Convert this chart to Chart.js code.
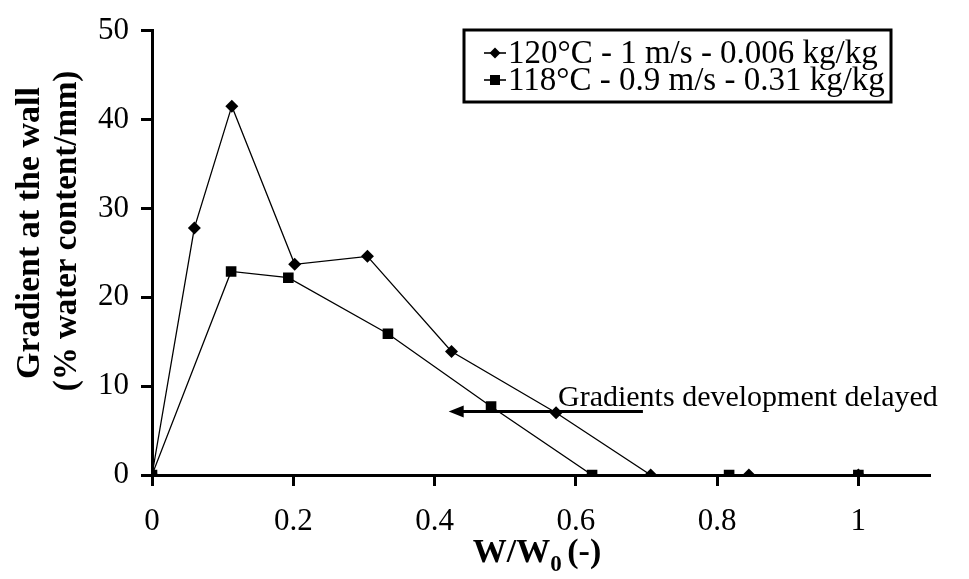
<!DOCTYPE html>
<html>
<head>
<meta charset="utf-8">
<script src="https://cdn.jsdelivr.net/npm/chart.js@4/dist/chart.umd.min.js"></script>
<style>
html,body{margin:0;padding:0;background:#fff;}
canvas{display:block;}
</style>
</head>
<body>
<canvas id="c" width="969" height="579"></canvas>
<script>
// ---- data ----
const seriesLabels = ["120\u00B0C - 1 m/s - 0.006 kg/kg", "118\u00B0C - 0.9 m/s - 0.31 kg/kg"];
const xDiamond = [0, 0.06, 0.113, 0.202, 0.305, 0.424, 0.572, 0.706, 0.845, 1.0];
const yDiamond = [0, 27.8, 41.5, 23.7, 24.6, 13.9, 7.0, 0, 0, 0];
const xSquare = [0, 0.112, 0.193, 0.334, 0.48, 0.623, 0.817, 1.0];
const ySquare = [0, 22.9, 22.2, 15.9, 7.7, 0, 0, 0];
const xTickValues = [0, 0.2, 0.4, 0.6, 0.8, 1];
const yTickValues = [0, 10, 20, 30, 40, 50];
const yTitleLines = ["Gradient at the wall", "(% water content/mm)"];
const xTitleParts = ["W/W", "0", " (-)"];
const annotationText = "Gradients development delayed";
const arrowFromTo = [0.695, 0.42]; // x values (data units)
const arrowAt = 7.14;               // y value (data units)

const FONT = "'Liberation Serif','Times New Roman',serif";

const toPts = (xs, ys) => xs.map((x, i) => ({x: x, y: ys[i]}));

const overlay = {
  id: 'overlay',
  afterDraw(chart) {
    const ctx = chart.ctx;
    const xs = chart.scales.x, ys = chart.scales.y;
    ctx.save();
    ctx.fillStyle = '#000';
    ctx.strokeStyle = '#000';
    // y title (two rotated lines)
    ctx.textAlign = 'center';
    ctx.textBaseline = 'middle';
    const yTitle = [{x: 30, y: 233, size: 34}, {x: 67, y: 231, size: 33}];
    yTitle.forEach((t, i) => {
      ctx.save();
      ctx.font = "bold " + t.size + "px " + FONT;
      ctx.translate(t.x, t.y);
      ctx.rotate(-Math.PI / 2);
      ctx.fillText(yTitleLines[i], 0, 0);
      ctx.restore();
    });
    // x title with subscript
    ctx.textBaseline = 'alphabetic';
    ctx.textAlign = 'left';
    const big = "bold 34px " + FONT, small = "bold 23px " + FONT;
    ctx.font = big;
    const w0 = ctx.measureText(xTitleParts[0]).width;
    const w2 = ctx.measureText(xTitleParts[2]).width;
    ctx.font = small;
    const w1 = ctx.measureText(xTitleParts[1]).width;
    const total = w0 + w1 + w2 - 3;
    const sx = 537 - total / 2;
    const by = 562;
    ctx.font = big;
    ctx.fillText(xTitleParts[0], sx, by);
    ctx.font = small;
    ctx.fillText(xTitleParts[1], sx + w0, by + 9);
    ctx.font = big;
    ctx.fillText(xTitleParts[2], sx + w0 + w1 - 3, by);

    // legend box
    const lx = 464, ly = 30, lw = 427, lh = 72;
    ctx.lineWidth = 3;
    ctx.strokeRect(lx, ly, lw, lh);
    ctx.font = "33px " + FONT;
    ctx.textBaseline = 'middle';
    const rows = [53, 80];
    chart.data.datasets.forEach((ds, i) => {
      const ry = rows[i];
      ctx.lineWidth = 1.6;
      ctx.beginPath();
      ctx.moveTo(484, ry); ctx.lineTo(506, ry); ctx.stroke();
      ctx.beginPath();
      const mx = 495;
      if (i === 0) {
        const r = 5.5;
        ctx.moveTo(mx, ry - r); ctx.lineTo(mx + r, ry); ctx.lineTo(mx, ry + r); ctx.lineTo(mx - r, ry); ctx.closePath();
      } else {
        ctx.rect(mx - 5, ry - 5, 10, 10);
      }
      ctx.fill();
      ctx.fillText(ds.label, 508, ry + 1);
    });

    // annotation arrow
    const ax1 = xs.getPixelForValue(arrowFromTo[0]);
    const ax2 = xs.getPixelForValue(arrowFromTo[1]);
    const ay = ys.getPixelForValue(arrowAt);
    ctx.lineWidth = 3;
    ctx.beginPath();
    ctx.moveTo(ax1, ay); ctx.lineTo(ax2 + 12, ay); ctx.stroke();
    ctx.beginPath();
    ctx.moveTo(ax2, ay); ctx.lineTo(ax2 + 15, ay - 6); ctx.lineTo(ax2 + 15, ay + 6); ctx.closePath();
    ctx.fill();
    ctx.font = "30px " + FONT;
    ctx.textBaseline = 'alphabetic';
    ctx.textAlign = 'left';
    ctx.fillText(annotationText, 558, 406);
    ctx.restore();
  }
};

new Chart(document.getElementById('c'), {
  type: 'scatter',
  data: {
    datasets: [
      {
        label: seriesLabels[0],
        data: toPts(xDiamond, yDiamond),
        showLine: true,
        borderColor: '#000',
        backgroundColor: '#000',
        borderWidth: 1.3,
        pointStyle: 'rectRot',
        pointRadius: 6.5,
        pointBorderWidth: 0,
        tension: 0
      },
      {
        label: seriesLabels[1],
        data: toPts(xSquare, ySquare),
        showLine: true,
        borderColor: '#000',
        backgroundColor: '#000',
        borderWidth: 1.3,
        pointStyle: 'rect',
        pointRadius: 7.5,
        pointBorderWidth: 0,
        tension: 0
      }
    ]
  },
  options: {
    responsive: false,
    animation: false,
    devicePixelRatio: 1,
    layout: {padding: {top: 20, right: 40, left: 0, bottom: 0}},
    plugins: {legend: {display: false}, tooltip: {enabled: false}},
    scales: {
      x: {
        type: 'linear',
        min: 0, max: 1.1,
        afterFit(s) { s.height = 104; },
        afterBuildTicks(s) { s.ticks = xTickValues.map(v => ({value: v})); },
        ticks: {
          color: '#000',
          font: {family: FONT, size: 31},
          padding: 17,
          maxRotation: 0,
          callback: v => String(v)
        },
        grid: {drawOnChartArea: false, drawTicks: true, tickLength: 11, color: '#000', lineWidth: 3},
        border: {display: true, color: '#000', width: 3}
      },
      y: {
        type: 'linear',
        min: 0, max: 50,
        afterFit(s) { s.width = 152; },
        afterBuildTicks(s) { s.ticks = yTickValues.map(v => ({value: v})); },
        ticks: {
          color: '#000',
          font: {family: FONT, size: 31},
          padding: 12,
          callback: v => String(v)
        },
        grid: {drawOnChartArea: false, drawTicks: true, tickLength: 11, color: '#000', lineWidth: 3},
        border: {display: true, color: '#000', width: 3}
      }
    }
  },
  plugins: [overlay]
});
</script>
</body>
</html>
